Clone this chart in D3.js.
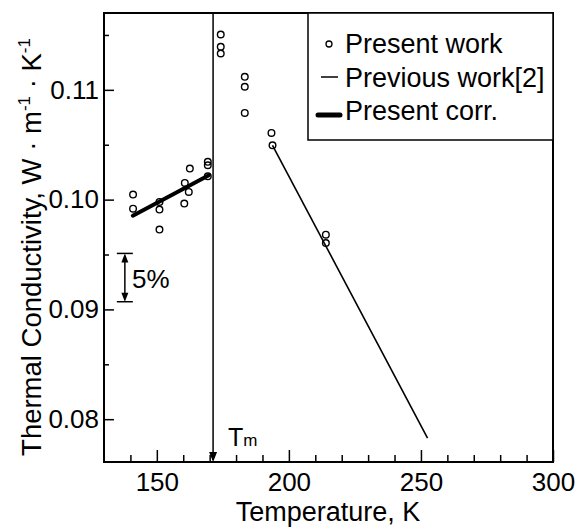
<!DOCTYPE html>
<html>
<head>
<meta charset="utf-8">
<script src="https://cdn.jsdelivr.net/npm/d3@7"></script>
<style>
  body { margin: 0; background: #fff; }
  svg { font-family: "Liberation Sans", Arial, sans-serif; }
</style>
</head>
<body>
<svg width="578" height="529"></svg>
<script>
// Present work (measured points)
const presentT = [141, 141, 151, 151, 151, 160.4, 160.6, 162.1, 162.5, 169.3, 169.3, 169.3,
                  174.2, 174.2, 174.2, 183.3, 183.3, 183.3, 193.4, 193.8, 214, 214];
const presentK = [0.10046, 0.09918, 0.09979, 0.09909, 0.09727, 0.09964, 0.10152, 0.1007, 0.10283,
                  0.10344, 0.10313, 0.10212, 0.11504, 0.11392, 0.11331, 0.11119, 0.11028, 0.1079,
                  0.10608, 0.10495, 0.09681, 0.09605];

// Previous work [2] (liquid line)
const previousT = [193.8, 252.5];
const previousK = [0.10495, 0.07827];

// Present correlation (solid)
const corrT = [140.9, 169.7];
const corrK = [0.09854, 0.10222];

const meltT = 171.3;
const errorBar = {T: 137.9, lo: 0.0907, hi: 0.0951};

const xMajor = [150, 200, 250, 300];
const xMinor = [140, 160, 170, 180, 190, 210, 220, 230, 240, 260, 270, 280, 290];
const yMajor = [0.08, 0.09, 0.10, 0.11];
const yMinor = [0.085, 0.095, 0.105, 0.115];
const yLabels = ["0.08", "0.09", "0.10", "0.11"];

const legendNames = ["Present work", "Previous work[2]", "Present corr."];

const svg = d3.select("svg");
const pLeft = 104, pRight = 553, pTop = 13, pBottom = 462;

const x = d3.scaleLinear().domain([130, 300]).range([pLeft, pRight]);
const y = d3.scaleLinear().domain([0.0761, 0.117]).range([pBottom, pTop]);

// frame
svg.append("rect")
    .attr("x", pLeft).attr("y", pTop)
    .attr("width", pRight - pLeft).attr("height", pBottom - pTop)
    .attr("fill", "none").attr("stroke", "#000").attr("stroke-width", 2);

// x axis
const gx = svg.append("g").attr("transform", `translate(0, ${pBottom})`);
gx.call(d3.axisBottom(x).tickValues(xMajor).tickSize(-12).tickPadding(11).tickFormat(d3.format("d")));
gx.append("g").call(d3.axisBottom(x).tickValues(xMinor).tickSize(-7).tickFormat(""));
gx.selectAll(".domain").remove();
gx.selectAll("line").attr("stroke", "#000").attr("stroke-width", 1.5);
gx.selectAll("text").attr("font-size", "26px").attr("fill", "#000")
    .attr("font-family", "Liberation Sans, Arial, sans-serif");

// y axis
const gy = svg.append("g").attr("transform", `translate(${pLeft}, 0)`);
gy.call(d3.axisLeft(y).tickValues(yMajor).tickSize(-10).tickPadding(5)
    .tickFormat((d, i) => yLabels[i]));
gy.append("g").call(d3.axisLeft(y).tickValues(yMinor).tickSize(-5).tickFormat(""));
gy.selectAll(".domain").remove();
gy.selectAll("line").attr("stroke", "#000").attr("stroke-width", 1.5);
gy.selectAll("text").attr("font-size", "26px").attr("fill", "#000")
    .attr("font-family", "Liberation Sans, Arial, sans-serif");

// axis titles
svg.append("text")
    .attr("x", 328).attr("y", 521)
    .attr("text-anchor", "middle")
    .attr("font-size", "27px")
    .text("Temperature, K");

const yt = svg.append("text")
    .attr("transform", "translate(41, 247) rotate(-90)")
    .attr("text-anchor", "middle")
    .attr("font-size", "27.5px");
yt.append("tspan").text("Thermal Conductivity, W \u00b7 m");
yt.append("tspan").attr("font-size", "17px").attr("dy", -11).text("-1");
yt.append("tspan").attr("dy", 11).text(" \u00b7 K");
yt.append("tspan").attr("font-size", "17px").attr("dy", -11).text("-1");

// melting point line with arrow
svg.append("line")
    .attr("x1", x(meltT)).attr("x2", x(meltT))
    .attr("y1", pTop).attr("y2", pBottom - 6)
    .attr("stroke", "#000").attr("stroke-width", 1.5);
svg.append("path")
    .attr("d", `M${x(meltT) - 4},${pBottom - 10} L${x(meltT) + 4},${pBottom - 10} L${x(meltT)},${pBottom} Z`)
    .attr("fill", "#000");
const tm = svg.append("text")
    .attr("x", 228).attr("y", 446)
    .attr("font-size", "25px");
tm.append("tspan").text("T");
tm.append("tspan").attr("font-size", "17px").text("m");

// 5% bar
const ex = x(errorBar.T);
const eTop = y(errorBar.hi), eBot = y(errorBar.lo);
svg.append("line").attr("x1", ex).attr("x2", ex).attr("y1", eTop + 4).attr("y2", eBot - 4)
    .attr("stroke", "#000").attr("stroke-width", 1.5);
[eTop, eBot].forEach(v => {
    svg.append("line").attr("x1", ex - 8).attr("x2", ex + 8).attr("y1", v).attr("y2", v)
        .attr("stroke", "#000").attr("stroke-width", 1.5);
});
svg.append("path").attr("d", `M${ex - 3.5},${eTop + 9} L${ex + 3.5},${eTop + 9} L${ex},${eTop} Z`).attr("fill", "#000");
svg.append("path").attr("d", `M${ex - 3.5},${eBot - 9} L${ex + 3.5},${eBot - 9} L${ex},${eBot} Z`).attr("fill", "#000");
svg.append("text").attr("x", 132).attr("y", 288).attr("font-size", "26px").text("5%");

// lines
const line = d3.line().x(d => x(d[0])).y(d => y(d[1]));
svg.append("path")
    .datum(previousT.map((t, i) => [t, previousK[i]]))
    .attr("d", line).attr("fill", "none").attr("stroke", "#000").attr("stroke-width", 1.6);
svg.append("path")
    .datum(corrT.map((t, i) => [t, corrK[i]]))
    .attr("d", line).attr("fill", "none").attr("stroke", "#000").attr("stroke-width", 4)
    .attr("stroke-linecap", "round");

// points
svg.append("g").selectAll("circle")
    .data(presentT.map((t, i) => [t, presentK[i]]))
    .enter().append("circle")
    .attr("cx", d => x(d[0])).attr("cy", d => y(d[1]))
    .attr("r", 3.3)
    .attr("fill", "none").attr("stroke", "#000").attr("stroke-width", 1.4);

// legend
const lg = svg.append("g");
lg.append("rect")
    .attr("x", 308).attr("y", pTop).attr("width", pRight - 308).attr("height", 127)
    .attr("fill", "#fff").attr("stroke", "#000").attr("stroke-width", 1.5);
lg.append("circle").attr("cx", 329).attr("cy", 44).attr("r", 3)
    .attr("fill", "none").attr("stroke", "#000").attr("stroke-width", 1.3);
lg.append("line").attr("x1", 321).attr("x2", 338).attr("y1", 77).attr("y2", 77)
    .attr("stroke", "#000").attr("stroke-width", 1.5);
lg.append("line").attr("x1", 318).attr("x2", 340).attr("y1", 115).attr("y2", 115)
    .attr("stroke", "#000").attr("stroke-width", 5).attr("stroke-linecap", "round");
lg.selectAll("text.lab")
    .data(legendNames)
    .enter().append("text")
    .attr("class", "lab")
    .attr("x", 345).attr("y", (d, i) => 53 + i * 33.5)
    .attr("font-size", "27px")
    .text(d => d);
</script>
</body>
</html>
